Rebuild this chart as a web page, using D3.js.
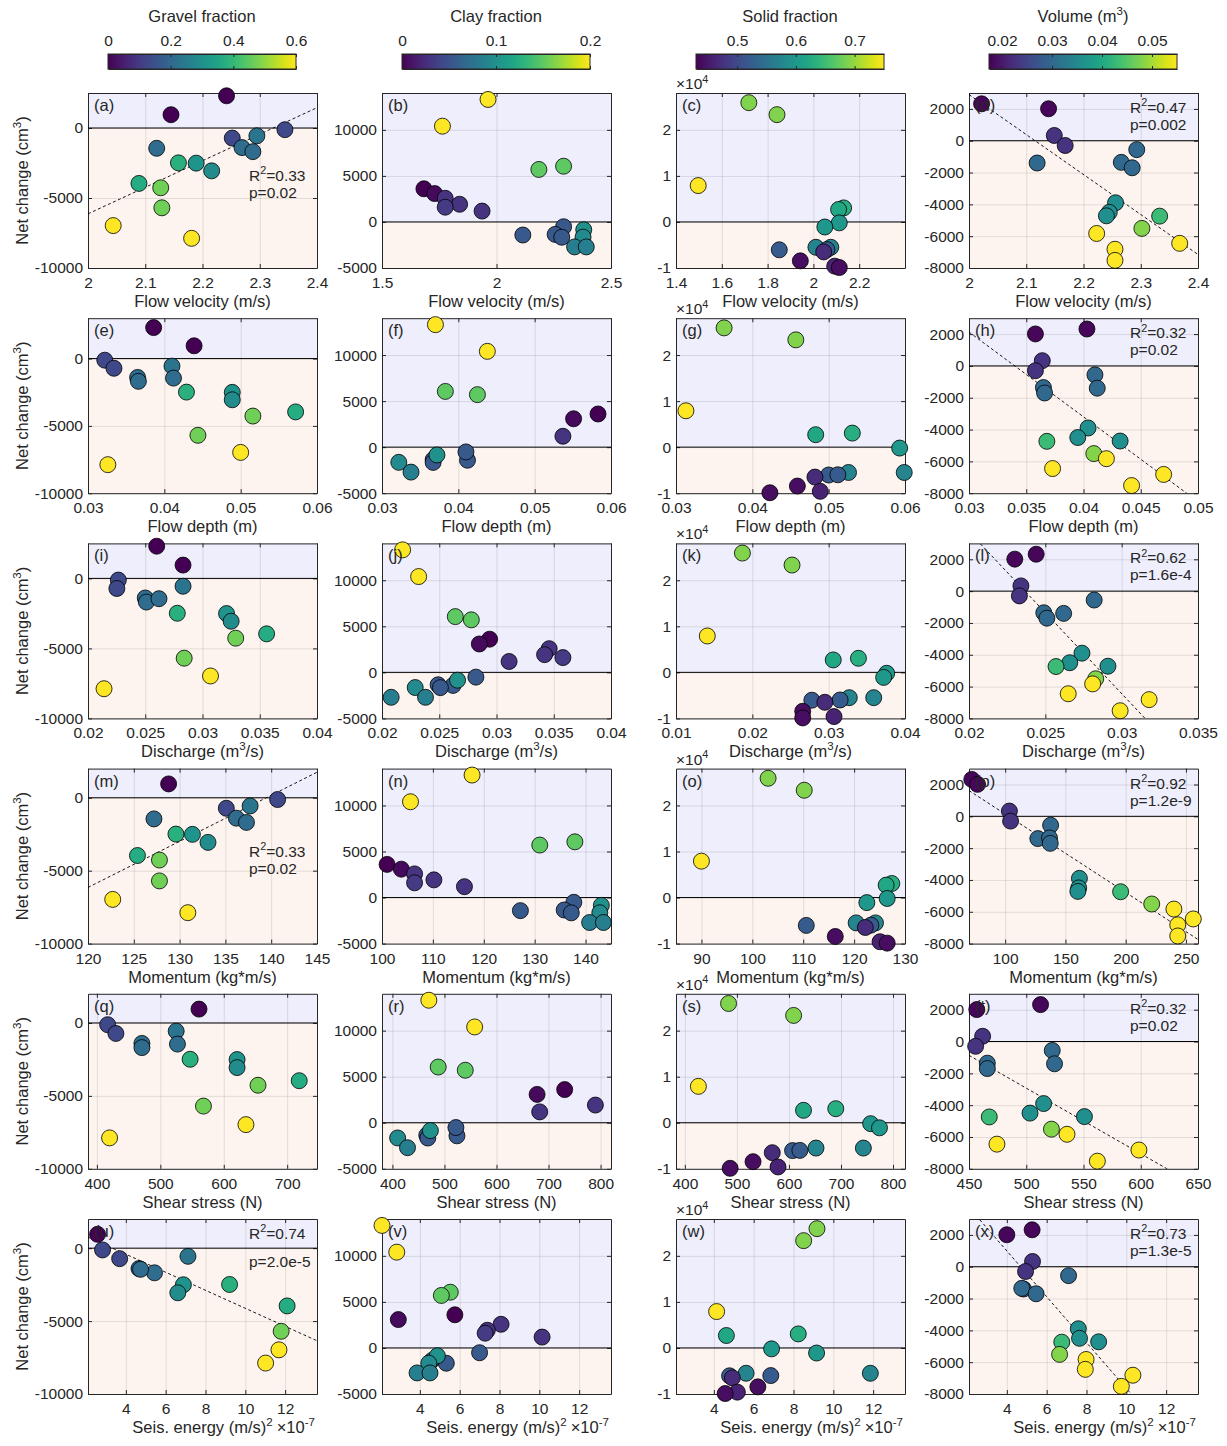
<!DOCTYPE html>
<html>
<head>
<meta charset="utf-8">
<title>Net change vs flow properties</title>
<script src="https://cdn.jsdelivr.net/npm/d3@7/dist/d3.min.js"></script>
<style>
  body { margin: 0; background: #fff; }
  text { font-family: "Liberation Sans", Arial, Helvetica, sans-serif; fill: #262626; }
</style>
</head>
<body>
<script>
// ---------- data ----------
// column 1 : gravel fraction runs
const gravelFrac  = [0, 0, 0.13, 0.13, 0.23, 0.21, 0.21, 0.21, 0.38, 0.31, 0.29, 0.37, 0.47, 0.47, 0.6, 0.6];
const gravelNet   = [2300, 950, -120, -720, -560, -1400, -1690, -1450, -2490, -2510, -3060, -3960, -4270, -5700, -6970, -7880];
const gravelVel   = [2.242, 2.145, 2.344, 2.252, 2.295, 2.269, 2.288, 2.120, 2.158, 2.189, 2.216, 2.089, 2.127, 2.129, 2.044, 2.181];
const gravelDepth = [0.0386, 0.0439, 0.0322, 0.0334, 0.0410, 0.0365, 0.0366, 0.0412, 0.0429, 0.0489, 0.0489, 0.0572, 0.0516, 0.0444, 0.0500, 0.0326];
const gravelQ     = [0.0260, 0.0283, 0.02265, 0.02252, 0.0283, 0.0250, 0.0251, 0.0262, 0.0278, 0.0321, 0.0325, 0.0356, 0.0329, 0.0284, 0.0307, 0.0214];
const gravelMom   = [null, 128.8, 140.7, 135.1, 137.7, 136.2, 137.3, 127.2, 129.6, 131.4, 133.1, 125.4, 127.8, 127.8, 122.7, 130.9];
const gravelShear = [null, 561, 417, 430, 525, 471, 471, 527, 547, 621, 621, 719, 654, 568, 635, 420];
const gravelSeis  = [null, 2.58, 2.83, 3.69, 7.12, 4.66, 5.44, 4.74, 9.21, 6.89, 6.61, 12.10, null, 11.80, 11.69, 11.02];

// column 2 : clay fraction runs
const clayFrac  = [0.2, 0.2, 0.15, 0.15, 0.0, 0.005, 0.03, 0.03, 0.035, 0.03, 0.055, 0.055, 0.055, 0.055, 0.1, 0.095, 0.085, 0.085];
const clayNet   = [13300, 10400, 6050, 5700, 3600, 3080, 2570, 1920, 1600, 1180, -1420, -520, -1350, -1660, -850, -1650, -2710, -2710];
const clayVel   = [1.963, 1.764, 2.293, 2.185, 1.683, 1.730, 1.776, 1.839, 1.776, 1.937, 2.115, 2.293, 2.256, 2.285, 2.381, 2.378, 2.341, 2.392];
const clayDepth = [0.0370, 0.0438, 0.0383, 0.0425, 0.0583, 0.0551, null, null, null, 0.0537, 0.0412, 0.0410, 0.0367, 0.0367, 0.0372, 0.0322, 0.0338, null];
const clayQ     = [0.0218, 0.0232, 0.0264, 0.0278, 0.0294, 0.0285, 0.0346, 0.0342, 0.0358, 0.0311, 0.0262, 0.0282, 0.0249, 0.0251, 0.0266, 0.0229, 0.0208, 0.0238];
const clayMom   = [117.7, 105.6, 137.9, 131.0, 101.0, 103.8, 106.4, 110.2, 106.4, 116.2, 127.2, 137.7, 135.8, 137.2, 143.1, 142.8, 140.8, 143.5];
const clayShear = [470, 558, 488, 540, 731, 678, null, 790, null, 683, 524, 522, 466, 468, 473, 410, 429, null];
const claySeis  = [2.10, 2.84, 5.53, 5.08, 5.76, 2.92, 8.08, 7.39, 7.28, 10.14, null, 7.0, 4.61, 5.33, 4.88, 4.45, 3.86, 4.51];

// column 3 : solid fraction runs
const solidFrac  = [0.69, 0.69, 0.75, 0.63, 0.62, 0.60, 0.60, 0.575, 0.575, 0.52, 0.52, 0.47, 0.44, 0.46, 0.44];
const solidNet   = [25900, 23300, 7900, 3050, 2700, -200, -1100, -5500, -5500, -6050, -6000, -6500, -8450, -9600, -9900];
const solidVel   = [1.718, 1.841, 1.497, 2.132, 2.110, 2.113, 2.050, 2.011, 2.076, 1.851, 2.059, 2.045, 1.943, 2.093, 2.113];
const solidDepth = [0.0363, 0.0457, 0.0313, 0.0531, 0.0483, 0.0593, null, 0.0599, 0.0526, 0.0500, 0.0512, 0.0482, 0.0459, 0.0489, 0.0423];
const solidQ     = [0.0187, 0.0252, 0.0141, 0.0339, 0.0306, 0.0376, 0.0372, 0.0359, 0.0327, 0.0278, 0.0315, 0.0295, 0.0266, 0.0307, 0.0266];
const solidMom   = [103.1, 110.2, 90.0, 127.4, 126.3, 126.5, 122.5, 124.2, 120.4, 110.6, 123.3, 122.2, 116.3, 125.1, 126.5];
const solidShear = [484, 609, 426, 690, 628, 757, 774, 743, 652, 607, 621, 568, 531, 579, 487];
const solidSeis  = [9.18, 8.51, 4.14, 8.24, 4.63, 6.90, 9.16, 11.86, 5.62, 4.79, 6.86, 4.93, 6.21, 5.18, 4.57];

// column 4 : volume runs
const volume   = [0.018, 0.018, 0.023, 0.023, 0.030, 0.030, 0.030, 0.030, 0.036, 0.036, 0.036, 0.043, 0.048, 0.055, 0.055, 0.055, 0.055];
const volNet   = [2320, 2010, 330, -300, -560, -1400, -1360, -1700, -3900, -4500, -4720, -4740, -5510, -5830, -6450, -6820, -7520];
const volVel   = [2.022, 2.139, 2.149, 2.168, 2.293, 2.119, 2.266, 2.285, 2.256, 2.245, 2.240, 2.333, 2.302, 2.223, 2.368, 2.255, 2.255];
const volDepth = [0.0403, 0.0358, 0.0364, 0.0358, 0.0410, 0.0412, 0.0365, 0.0366, 0.0404, 0.0395, 0.0432, 0.0368, 0.0409, 0.0420, 0.0373, 0.0470, 0.0442];
const volQ     = [0.0244, 0.0230, 0.0234, 0.0233, 0.0282, 0.0262, 0.0249, 0.0251, 0.0274, 0.0266, 0.0291, 0.0257, 0.0283, 0.0281, 0.0265, 0.0318, 0.0299];
const volMom   = [72.3, 77.1, 103.5, 104.5, 137.7, 127.1, 136.8, 137.4, 161.6, 161.0, 160.3, 195.8, 221.6, 240.0, 256.1, 243.2, 243.2];
const volShear = [512.5, 456.8, 461.9, 455.8, 522.7, 524.7, 466.0, 466.0, 515.2, 503.3, 550.8, 467.7, 522.0, 535.6, 474.4, 598.4, 562.1];
const volSeis  = [5.27, 4.00, 5.29, 4.94, 7.10, 4.84, 4.75, 5.47, 7.59, 7.65, 8.61, 6.76, 6.65, 7.98, 7.94, 10.33, 9.75];

// regression lines (end points) and their stats
const fitA = [[2, -6130], [2.4, 1450]];
const fitD = [[2, 2900], [2.4, -7150]];
const fitH = [[0.03, 2130], [0.05, -8530]];
const fitL = [[0.02, 3730], [0.035, -11530]];
const fitM = [[120, -6150], [145, 1750]];
const fitP = [[70, 1620], [260, -7740]];
const fitT = [[450, -870], [650, -9115]];
const fitU = [[2.1, 760], [13.6, -6350]];
const fitX = [[2.1, 3730], [13.6, -12830]];

// axis ranges and tick labels, rows x columns
const xDomains = [
  [[2, 2.4], [1.5, 2.5], [1.4, 2.4], [2, 2.4]],
  [[0.03, 0.06], [0.03, 0.06], [0.03, 0.06], [0.03, 0.05]],
  [[0.02, 0.04], [0.02, 0.04], [0.01, 0.04], [0.02, 0.035]],
  [[120, 145], [100, 145], [85, 130], [70, 260]],
  [[386, 747], [380, 820], [383, 823], [450, 650]],
  [[2.1, 13.6], [2.1, 13.6], [2.1, 13.6], [2.1, 13.6]]
];
const xTicks = [
  [[2, 2.1, 2.2, 2.3, 2.4], [1.5, 2, 2.5], [1.4, 1.6, 1.8, 2, 2.2], [2, 2.1, 2.2, 2.3, 2.4]],
  [[0.03, 0.04, 0.05, 0.06], [0.03, 0.04, 0.05, 0.06], [0.03, 0.04, 0.05, 0.06], [0.03, 0.035, 0.04, 0.045, 0.05]],
  [[0.02, 0.025, 0.03, 0.035, 0.04], [0.02, 0.025, 0.03, 0.035, 0.04], [0.01, 0.02, 0.03, 0.04], [0.02, 0.025, 0.03, 0.035]],
  [[120, 125, 130, 135, 140, 145], [100, 110, 120, 130, 140], [90, 100, 110, 120, 130], [100, 150, 200, 250]],
  [[400, 500, 600, 700], [400, 500, 600, 700, 800], [400, 500, 600, 700, 800], [450, 500, 550, 600, 650]],
  [[4, 6, 8, 10, 12], [4, 6, 8, 10, 12], [4, 6, 8, 10, 12], [4, 6, 8, 10, 12]]
];
const xLabels = [
  ['Flow velocity (m/s)'],
  ['Flow depth (m)'],
  ['Discharge (m', '3', '/s)'],
  ['Momentum (kg*m/s)'],
  ['Shear stress (N)'],
  ['Seis. energy (m/s)', '2']
];

const gravelTicks = [0, 0.2, 0.4, 0.6];
const clayTicks = [0, 0.1, 0.2];
const solidTicks = [0.5, 0.6, 0.7];
const volumeTicks = [0.02, 0.03, 0.04, 0.05];

const columns = [
  { title: ['Gravel fraction'], cbDomain: [0, 0.6], cbTicks: gravelTicks, color: gravelFrac, net: gravelNet,
    xs: [gravelVel, gravelDepth, gravelQ, gravelMom, gravelShear, gravelSeis],
    yDomains: [[-10000, 2500], [-10000, 3000], [-10000, 2500], [-10000, 2000], [-10000, 2000], [-10000, 2000]],
    yTicks: [-10000, -5000, 0], scale: 1 },
  { title: ['Clay fraction'], cbDomain: [0, 0.2], cbTicks: clayTicks, color: clayFrac, net: clayNet,
    xs: [clayVel, clayDepth, clayQ, clayMom, clayShear, claySeis],
    yDomains: d3.range(6).map(() => [-5000, 14000]),
    yTicks: [-5000, 0, 5000, 10000], scale: 1 },
  { title: ['Solid fraction'], cbDomain: [0.43, 0.75], cbTicks: solidTicks, color: solidFrac, net: solidNet,
    xs: [solidVel, solidDepth, solidQ, solidMom, solidShear, solidSeis],
    yDomains: d3.range(6).map(() => [-10000, 28000]),
    yTicks: [-10000, 0, 10000, 20000], scale: 1e4 },
  { title: ['Volume (m', '3', ')'], cbDomain: [0.0174, 0.055], cbTicks: volumeTicks, color: volume, net: volNet,
    xs: [volVel, volDepth, volQ, volMom, volShear, volSeis],
    yDomains: d3.range(6).map(() => [-8000, 3000]),
    yTicks: [-8000, -6000, -4000, -2000, 0, 2000], scale: 1 }
];

const fits = {
  a: { line: fitA, r2: '0.33', p: '0.02', place: 'mid' },
  d: { line: fitD, r2: '0.47', p: '0.002', place: 'top' },
  h: { line: fitH, r2: '0.32', p: '0.02', place: 'top' },
  l: { line: fitL, r2: '0.62', p: '1.6e-4', place: 'top' },
  m: { line: fitM, r2: '0.33', p: '0.02', place: 'mid' },
  p: { line: fitP, r2: '0.92', p: '1.2e-9', place: 'top' },
  t: { line: fitT, r2: '0.32', p: '0.02', place: 'top' },
  u: { line: fitU, r2: '0.74', p: '2.0e-5', place: 'split' },
  x: { line: fitX, r2: '0.73', p: '1.3e-5', place: 'top' }
};

// ---------- layout ----------
const W = 1227, H = 1446;
const colLeft = [88, 382, 676, 969];
const plotW = 229, plotH = 175;
const rowBottom = r => 268 + r * 225.2;
const letters = 'abcdefghijklmnopqrstuvwx';
const tickFont = 15.5, labelFont = 16.5, statFont = 15.5;

const svg = d3.select('body').append('svg').attr('width', W).attr('height', H);
svg.append('rect').attr('width', W).attr('height', H).attr('fill', '#fff');
const defs = svg.append('defs');

// text with alternating normal / superscript parts
function addParts(text, parts, size) {
  let up = false;
  parts.forEach((t, i) => {
    if (!t) return;
    const ts = text.append('tspan').text(t);
    if (i % 2 === 1) { ts.attr('dy', -size * 0.42).attr('font-size', size * 0.7); up = true; }
    else if (up) { ts.attr('dy', size * 0.42); up = false; }
  });
  return text;
}

const fmt = d => String(+d.toPrecision(6));

function styleAxis(a) {
  a.attr('font-size', tickFont).style('color', '#262626');
  a.select('.domain').attr('stroke-width', 1);
}

function drawColorbar(col, c) {
  const left = colLeft[c] + 20, w = 188, top = 54, h = 15;
  const grad = defs.append('linearGradient').attr('id', 'cb' + c);
  d3.range(0, 1.0001, 0.05).forEach(t =>
    grad.append('stop').attr('offset', t).attr('stop-color', d3.interpolateViridis(t)));
  svg.append('rect').attr('x', left).attr('y', top).attr('width', w).attr('height', h)
    .attr('fill', `url(#cb${c})`);
  const s = d3.scaleLinear().domain(col.cbDomain).range([left, left + w]);
  svg.append('g').attr('transform', `translate(0,${top})`)
    .call(d3.axisTop(s).tickValues(col.cbTicks).tickSizeInner(-3).tickSizeOuter(0).tickPadding(8).tickFormat(fmt))
    .call(styleAxis);
  svg.append('g').attr('transform', `translate(0,${top + h})`)
    .call(d3.axisBottom(s).tickValues(col.cbTicks).tickSizeInner(-3).tickSizeOuter(0).tickFormat(''))
    .call(styleAxis);
  svg.append('rect').attr('x', left).attr('y', top).attr('width', w).attr('height', h)
    .attr('fill', 'none').attr('stroke', '#262626').attr('stroke-width', 1);
  addParts(svg.append('text').attr('x', left + w / 2).attr('y', 22).attr('text-anchor', 'middle').attr('font-size', labelFont),
    col.title, labelFont);
}

function drawPanel(r, c) {
  const col = columns[c];
  const letter = letters[r * 4 + c];
  const left = colLeft[c], bottom = rowBottom(r), top = bottom - plotH;
  const g = svg.append('g').attr('transform', `translate(${left},${top})`);
  const x = d3.scaleLinear().domain(xDomains[r][c]).range([0, plotW]);
  const y = d3.scaleLinear().domain(col.yDomains[r]).range([plotH, 0]);
  const xt = xTicks[r][c], yt = col.yTicks;
  const zy = y(0);
  const cscale = d3.scaleSequential(d3.interpolateViridis).domain(col.cbDomain).clamp(true);

  // deposition / erosion shading
  g.append('rect').attr('width', plotW).attr('height', zy).attr('fill', '#eeeefc');
  g.append('rect').attr('y', zy).attr('width', plotW).attr('height', plotH - zy).attr('fill', '#fdf4ef');

  // grid
  g.append('g').attr('transform', `translate(0,${plotH})`)
    .call(d3.axisBottom(x).tickValues(xt).tickSize(-plotH).tickFormat(''))
    .call(a => a.select('.domain').remove())
    .call(a => a.selectAll('line').attr('stroke', '#000').attr('stroke-opacity', 0.1));
  g.append('g')
    .call(d3.axisLeft(y).tickValues(yt).tickSize(-plotW).tickFormat(''))
    .call(a => a.select('.domain').remove())
    .call(a => a.selectAll('line').attr('stroke', '#000').attr('stroke-opacity', 0.1));

  // box with inward ticks
  const tk = 4;
  g.append('g').attr('transform', `translate(0,${plotH})`)
    .call(d3.axisBottom(x).tickValues(xt).tickSizeInner(-tk).tickSizeOuter(0).tickPadding(9).tickFormat(fmt))
    .call(styleAxis);
  g.append('g')
    .call(d3.axisTop(x).tickValues(xt).tickSizeInner(-tk).tickSizeOuter(0).tickFormat(''))
    .call(styleAxis);
  g.append('g')
    .call(d3.axisLeft(y).tickValues(yt).tickSizeInner(-tk).tickSizeOuter(0).tickPadding(5)
      .tickFormat(d => fmt(d / col.scale)))
    .call(styleAxis);
  g.append('g').attr('transform', `translate(${plotW},0)`)
    .call(d3.axisRight(y).tickValues(yt).tickSizeInner(-tk).tickSizeOuter(0).tickFormat(''))
    .call(styleAxis);

  // zero line
  g.append('line').attr('x1', 0).attr('x2', plotW).attr('y1', zy).attr('y2', zy)
    .attr('stroke', '#000').attr('stroke-width', 1);

  // regression line
  const fit = fits[letter];
  if (fit) {
    defs.append('clipPath').attr('id', 'clip-' + letter)
      .append('rect').attr('width', plotW).attr('height', plotH);
    g.append('path').datum(fit.line)
      .attr('d', d3.line().x(d => x(d[0])).y(d => y(d[1])))
      .attr('clip-path', `url(#clip-${letter})`)
      .attr('fill', 'none').attr('stroke', '#000').attr('stroke-width', 0.9)
      .attr('stroke-dasharray', '3,2.5');
  }

  // points
  const xs = col.xs[r];
  const pts = col.net.map((v, i) => ({ x: xs[i], y: v, c: col.color[i] })).filter(d => d.x != null);
  g.append('g').selectAll('circle').data(pts).join('circle')
    .attr('cx', d => x(d.x)).attr('cy', d => y(d.y)).attr('r', 8)
    .attr('fill', d => cscale(d.c)).attr('stroke', '#000').attr('stroke-width', 0.8);

  // panel letter
  g.append('text').attr('x', 6).attr('y', 18).attr('font-size', labelFont).text(`(${letter})`);

  // stats, left aligned block
  if (fit) {
    let y1 = 20, y2 = 37;
    if (fit.place === 'mid') { y1 = 88; y2 = 105; }
    if (fit.place === 'split') { y2 = 48; }
    addParts(g.append('text').attr('x', 161).attr('y', y1).attr('font-size', statFont),
      ['R', '2', '=' + fit.r2], statFont);
    g.append('text').attr('x', 161).attr('y', y2).attr('font-size', statFont)
      .text('p=' + fit.p);
  }

  // exponent label for the x10^4 column
  if (col.scale !== 1) {
    addParts(g.append('text').attr('x', 0).attr('y', -4).attr('font-size', tickFont), ['\u00d710', '4'], tickFont);
  }

  // x label
  addParts(svg.append('text').attr('x', left + plotW / 2).attr('y', bottom + 39)
    .attr('text-anchor', 'middle').attr('font-size', labelFont), xLabels[r], labelFont);
  if (r === 5) {
    addParts(svg.append('text').attr('x', left + plotW - 2).attr('y', bottom + 39)
      .attr('text-anchor', 'end').attr('font-size', labelFont), ['\u00d710', '-7'], labelFont);
  }

  // y label
  if (c === 0) {
    addParts(svg.append('text')
      .attr('transform', `translate(28,${top + plotH / 2}) rotate(-90)`)
      .attr('text-anchor', 'middle').attr('font-size', labelFont), ['Net change (cm', '3', ')'], labelFont);
  }
}

columns.forEach((col, c) => {
  drawColorbar(col, c);
  for (let r = 0; r < 6; r++) drawPanel(r, c);
});
</script>
</body>
</html>
